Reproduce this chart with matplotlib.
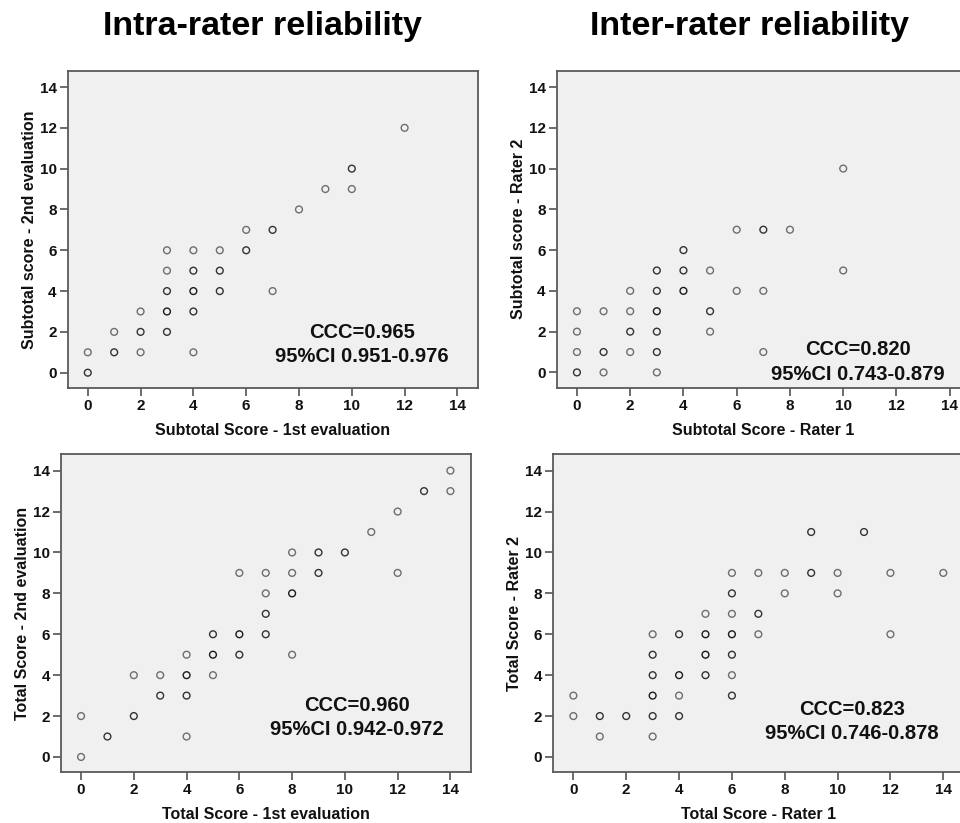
import matplotlib
matplotlib.use("Agg")
import matplotlib.pyplot as plt

plt.rcParams['font.family'] = ['Liberation Sans', 'DejaVu Sans']
plt.rcParams['font.weight'] = 'bold'

# ---- data: (x, y, overlap count) ----
intra_sub_x = [0, 0, 1, 1, 2, 2, 2, 3, 3, 3, 3, 3, 4, 4, 4, 4, 4, 5, 5, 5, 6, 6, 7, 7, 8, 9, 10, 10, 12]
intra_sub_y = [1, 0, 2, 1, 3, 2, 1, 6, 5, 4, 3, 2, 6, 5, 4, 3, 1, 6, 5, 4, 7, 6, 7, 4, 8, 9, 10, 9, 12]
intra_sub_n = [1, 2, 1, 2, 1, 2, 1, 1, 1, 2, 3, 2, 1, 2, 3, 2, 1, 1, 2, 2, 1, 2, 2, 1, 1, 1, 2, 1, 1]

inter_sub_x = [0, 0, 0, 0, 1, 1, 1, 2, 2, 2, 2, 3, 3, 3, 3, 3, 3, 4, 4, 4, 5, 5, 5, 6, 6, 7, 7, 7, 8, 10, 10]
inter_sub_y = [3, 2, 1, 0, 3, 1, 0, 4, 3, 2, 1, 5, 4, 3, 2, 1, 0, 6, 5, 4, 5, 3, 2, 7, 4, 7, 4, 1, 7, 10, 5]
inter_sub_n = [1, 1, 1, 2, 1, 2, 1, 1, 1, 2, 1, 2, 2, 3, 2, 2, 1, 2, 2, 3, 1, 2, 1, 1, 1, 2, 1, 1, 1, 1, 1]

intra_tot_x = [0, 0, 1, 2, 2, 3, 3, 4, 4, 4, 4, 5, 5, 5, 6, 6, 6, 7, 7, 7, 7, 8, 8, 8, 8, 9, 9, 10, 11, 12, 12, 13, 14, 14]
intra_tot_y = [2, 0, 1, 4, 2, 4, 3, 5, 4, 3, 1, 6, 5, 4, 9, 6, 5, 9, 8, 7, 6, 10, 9, 8, 5, 10, 9, 10, 11, 12, 9, 13, 14, 13]
intra_tot_n = [1, 1, 2, 1, 2, 1, 2, 1, 3, 2, 1, 2, 3, 1, 1, 3, 2, 1, 1, 2, 2, 1, 1, 3, 1, 2, 2, 2, 1, 1, 1, 2, 1, 1]

inter_tot_x = [0, 0, 1, 1, 2, 3, 3, 3, 3, 3, 3, 4, 4, 4, 4, 5, 5, 5, 5, 6, 6, 6, 6, 6, 6, 6, 7, 7, 7, 8, 8, 9, 9, 10, 10, 11, 12, 12, 14]
inter_tot_y = [3, 2, 2, 1, 2, 6, 5, 4, 3, 2, 1, 6, 4, 3, 2, 7, 6, 5, 4, 9, 8, 7, 6, 5, 4, 3, 9, 7, 6, 9, 8, 11, 9, 9, 8, 11, 9, 6, 9]
inter_tot_n = [1, 1, 2, 1, 2, 1, 2, 2, 3, 2, 1, 2, 3, 1, 2, 1, 3, 3, 2, 1, 2, 1, 3, 2, 1, 2, 1, 2, 1, 1, 1, 2, 2, 1, 1, 2, 1, 1, 1]

titles = ["Intra-rater reliability", "Inter-rater reliability"]
ticks = [0, 2, 4, 6, 8, 10, 12, 14]

panels = [
    dict(x=intra_sub_x, y=intra_sub_y, n=intra_sub_n,
         xlabel="Subtotal Score - 1st evaluation", ylabel="Subtotal score - 2nd evaluation",
         ccc="CCC=0.965", ci="95%CI 0.951-0.976", tx=10.38, ty1=1.96, ty2=0.78,
         rect=[67.7, 70.7, 478.0, 388.0]),
    dict(x=inter_sub_x, y=inter_sub_y, n=inter_sub_n,
         xlabel="Subtotal Score - Rater 1", ylabel="Subtotal score - Rater 2",
         ccc="CCC=0.820", ci="95%CI 0.743-0.879", tx=10.56, ty1=1.1, ty2=-0.08,
         rect=[556.7, 70.7, 970.5, 387.7]),
    dict(x=intra_tot_x, y=intra_tot_y, n=intra_tot_n,
         xlabel="Total Score - 1st evaluation", ylabel="Total Score - 2nd evaluation",
         ccc="CCC=0.960", ci="95%CI 0.942-0.972", tx=10.47, ty1=2.5, ty2=1.34,
         rect=[61.0, 454.3, 471.0, 772.3]),
    dict(x=inter_tot_x, y=inter_tot_y, n=inter_tot_n,
         xlabel="Total Score - Rater 1", ylabel="Total Score - Rater 2",
         ccc="CCC=0.823", ci="95%CI 0.746-0.878", tx=10.53, ty1=2.34, ty2=1.14,
         rect=[553.3, 454.3, 963.9, 772.3]),
]

W, H = 960, 823
fig = plt.figure(figsize=(W / 100, H / 100), dpi=100)
fig.patch.set_facecolor('white')

frame_col = '#5a5a5a'
for p in panels:
    l, t, r, b = p['rect']
    ax = fig.add_axes([l / W, 1 - b / H, (r - l) / W, (b - t) / H])
    ax.set_facecolor('#f0f0f0')
    for s in ax.spines.values():
        s.set_color(frame_col)
        s.set_linewidth(1.3)
    cols = ['#6e6e6e' if k == 1 else ('#333333' if k == 2 else '#1a1a1a') for k in p['n']]
    ax.scatter(p['x'], p['y'], s=24, facecolors='none', edgecolors=cols, linewidths=1.0, zorder=3)
    ax.set_xlim(-0.76, 14.78)
    ax.set_ylim(-0.75, 14.8)
    ax.set_xticks(ticks)
    ax.set_yticks(ticks)
    ax.tick_params(direction='out', length=6, width=1.1, color='#444444',
                   labelsize=11, pad=2, top=False, right=False)
    for lab in ax.get_xticklabels() + ax.get_yticklabels():
        lab.set_fontweight('bold')
        lab.set_color('#111111')
    ax.set_xlabel(p['xlabel'], fontsize=11.5, fontweight='bold', color='#111111', labelpad=7)
    ax.set_ylabel(p['ylabel'], fontsize=11.5, fontweight='bold', color='#111111', labelpad=2)
    ax.text(p['tx'], p['ty1'], p['ccc'], fontsize=14.5, fontweight='bold', ha='center', va='center', color='#111111')
    ax.text(p['tx'], p['ty2'], p['ci'], fontsize=14.5, fontweight='bold', ha='center', va='center', color='#111111')

fig.text(262 / W, 1 - 27 / H, titles[0], fontsize=24.5, fontweight='bold', ha='center', va='center', color='black')
fig.text(750 / W, 1 - 27 / H, titles[1], fontsize=24.5, fontweight='bold', ha='center', va='center', color='black')

fig.savefig('out.png', dpi=100, facecolor='white')
